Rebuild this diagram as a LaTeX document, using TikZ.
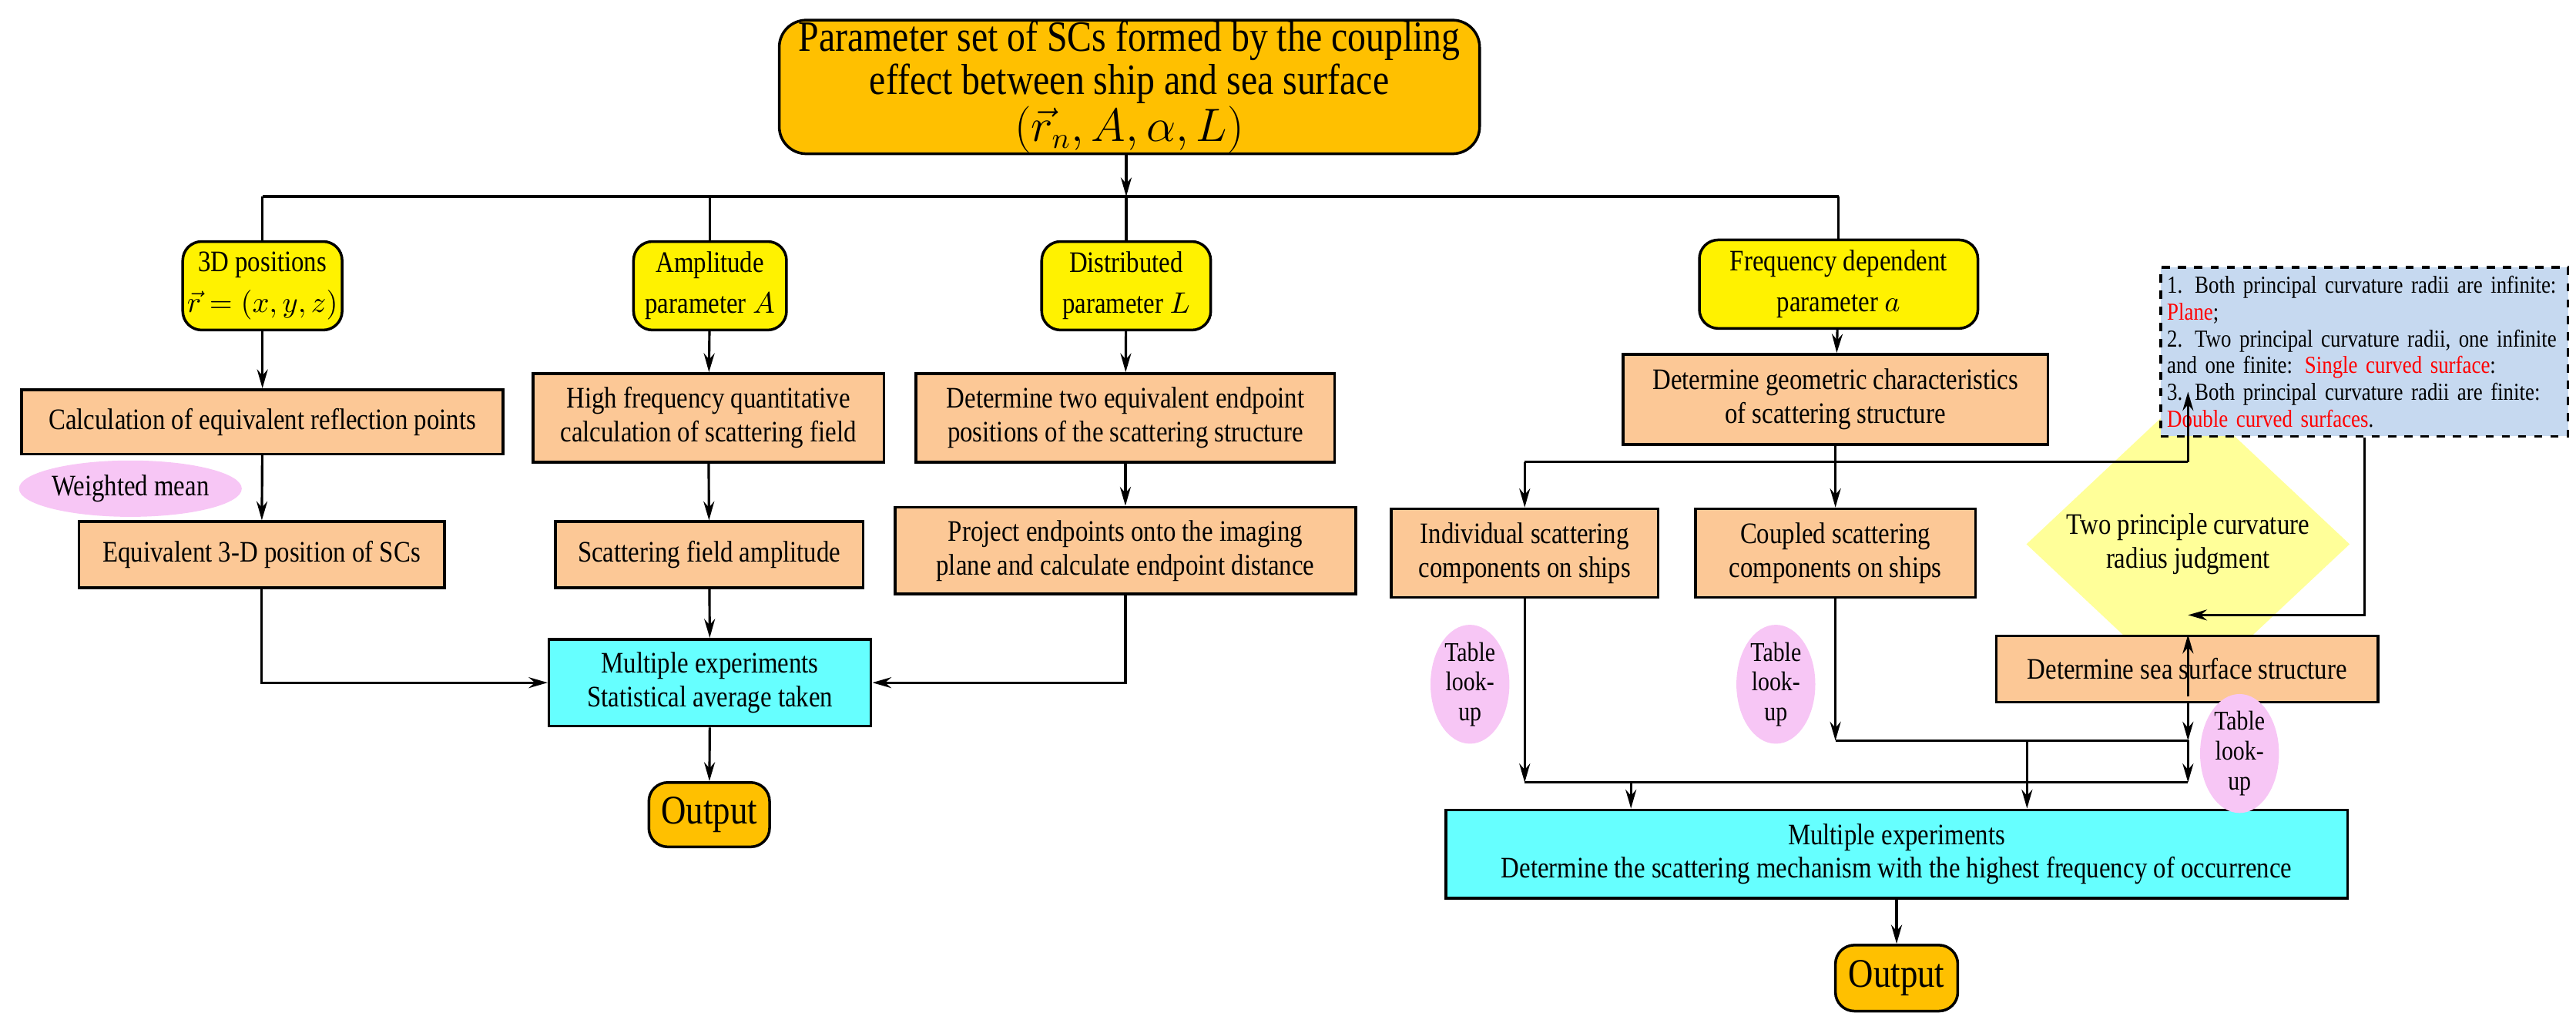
\documentclass[tikz,border=0pt]{standalone}
\usepackage{fontspec}
\setmainfont{Liberation Serif}[FakeStretch=0.85]
\usetikzlibrary{shapes.geometric,arrows.meta}
\newcommand\fs[2]{\fontsize{#1pt}{#2pt}\selectfont}
\def\pxu{0.0209cm}
\definecolor{peach}{HTML}{FCC896}
\definecolor{ttl}{HTML}{FFC000}
\definecolor{cyn}{HTML}{66FFFF}
\definecolor{pnk}{HTML}{F7C6F5}
\definecolor{pyl}{HTML}{FFFF99}
\definecolor{lbl}{HTML}{C6D9F0}
\begin{document}
\begin{tikzpicture}[x=0.0209cm,y=-0.0209cm,
  ln/.style={line width=0.9pt},
  arr/.style={line width=0.9pt,-{Stealth[length=7pt,width=4pt]}},
  base/.style={draw,line width=1pt,inner sep=0pt,align=center,font=\fs{11}{12.5}},
  ob/.style={base,fill=peach},
  yb/.style={base,fill=yellow,rounded corners=7pt,font=\fs{11}{15}},
  cb/.style={base,fill=cyn},
  outb/.style={base,fill=ttl,rounded corners=7pt,font=\fs{15}{17}},
  tl/.style={ellipse,fill=pnk,inner sep=0pt,align=center,font=\fs{10}{11}},
  sz/.style 2 args={minimum width=#1*\pxu,minimum height=#2*\pxu}]
\useasboundingbox (0,0) rectangle (1600,635);
% top
\node[base,fill=ttl,rounded corners=10pt,font=\fs{16}{16},sz={435}{83}] (title) at (701.5,54)
  {Parameter set of SCs formed by the coupling\\effect between ship and sea surface\\$\left(\vec{r}_n,A,\alpha,L\right)$};
\node[yb,sz={99}{55}] (p3d) at (163,177.5) {3D positions\\$\vec{r}=(x,y,z)$};
\node[yb,sz={95}{55}] (pamp) at (441,177.5) {Amplitude\\parameter $A$};
\node[yb,sz={105}{55}] (pdist) at (699.5,177.5) {Distributed\\parameter $L$};
\node[yb,sz={173}{55}] (pfreq) at (1142,176.5) {Frequency dependent\\parameter $a$};
% left column
\node[ob,sz={299}{40}] (calc) at (163,262) {Calculation of equivalent reflection points};
\node[tl,sz={136}{35},font=\fs{11}{12}] (wm) at (81,303.5) {Weighted mean};
\node[ob,sz={227}{41}] (equiv) at (162.5,344.5) {Equivalent 3-D position of SCs};
\node[ob,sz={218}{55}] (hf) at (440,259.5) {High frequency quantitative\\calculation of scattering field};
\node[ob,sz={191}{41}] (scat) at (440.5,344.5) {Scattering field amplitude};
\node[ob,sz={260}{55}] (dt) at (699,259.5) {Determine two equivalent endpoint\\positions of the scattering structure};
\node[ob,sz={286}{54}] (proj) at (699,342) {Project endpoints onto the imaging\\plane and calculate endpoint distance};
\node[cb,sz={200}{54}] (cyan1) at (441,424) {Multiple experiments\\Statistical average taken};
\node[outb,sz={75}{40}] (out1) at (440.5,506) {Output};
% right part
\node[ob,sz={264}{56}] (dg) at (1140,248) {Determine geometric characteristics\\of scattering structure};
\node[ob,sz={166}{55}] (ind) at (947,343.5) {Individual scattering\\components on ships};
\node[ob,sz={174}{55}] (cpl) at (1140,343.5) {Coupled scattering\\components on ships};
\node[diamond,fill=pyl,inner sep=0pt,align=center,font=\fs{11}{12.5},sz={201}{74}] (dia) at (1359,338) {Two principle curvature\\radius judgment};
\node[draw,dashed,line width=1pt,fill=lbl,inner sep=0pt,sz={253}{105}] (dash) at (1468.5,218.5) {};
\node[align=left,text width=245*\pxu,font=\fs{9}{9.9},inner sep=0pt] (dtxt) at (dash.center)
  {1. Both principal curvature radii are infinite:\\\textcolor{red}{Plane};\\2. Two principal curvature radii, one infinite\\and one finite: \textcolor{red}{Single curved surface}:\\3. Both principal curvature radii are finite:\\\textcolor{red}{Double curved surfaces}.};
\node[ob,sz={237}{41}] (sea) at (1358.5,415.5) {Determine sea surface structure};
\node[cb,sz={560}{55}] (cyan2) at (1178,530.5) {Multiple experiments\\Determine the scattering mechanism with the highest frequency of occurrence};
\node[outb,sz={76}{41}] (out2) at (1178,607.5) {Output};
\node[tl,sz={49}{57}] (tl1) at (913,425) {Table\\look-\\up};
\node[tl,sz={49}{57}] (tl2) at (1103,425) {Table\\look-\\up};
\node[tl,sz={49}{57}] (tl3) at (1391,468) {Table\\look-\\up};
% connectors top
\coordinate (bL) at (163,122);
\coordinate (bR) at (1142,122);
\coordinate (bT) at (699.5,122);
\draw[ln] (bL) -- (bR);
\draw[arr] (title.south -| bT) -- (bT);
\draw[ln] (bL) -- (p3d.north);
\draw[ln] (pamp.north |- bL) -- (pamp.north);
\draw[ln] (bT) -- (pdist.north);
\draw[ln] (bR) -- (pfreq.north);
% left
\draw[arr] (p3d) -- (calc);
\draw[arr] (calc) -- (equiv);
\draw[arr] (pamp) -- (hf);
\draw[arr] (hf) -- (scat);
\draw[arr] (pdist) -- (dt);
\draw[arr] (dt.south) -- (proj.north -| dt.south);
\draw[arr] (scat) -- (cyan1);
\draw[arr] (cyan1) -- (out1);
\draw[arr] (equiv.south) |- (cyan1.west);
\draw[arr] (proj.south) |- (cyan1.east);
% right
\draw[arr] (pfreq) -- (dg);
\coordinate (sL) at (947,287);
\coordinate (sR) at (1359,287);
\draw[ln] (dg.south) -- (dg.south |- sL);
\draw[ln] (sL) -- (sR);
\draw[arr] (sL) -- (ind.north);
\draw[arr] (cpl.north |- sL) -- (cpl.north);
\draw[arr] (sR) -- (dia.north);
\coordinate (dj) at (1359,382);
\draw[arr] (dash.south) |- (dj);
\draw[arr] (dia.south) -- (sea.north -| dia.south);
\coordinate (ya) at (1359,460);
\coordinate (yb) at (1359,486);
\draw[arr] (cpl.south) -- (cpl.south |- ya);
\draw[ln] (cpl.south |- ya) -- (ya);
\draw[arr] (sea.south -| ya) -- (ya);
\draw[arr] (ya) -- (yb);
\draw[arr] (ind.south) -- (ind.south |- yb);
\draw[ln] (ind.south |- yb) -- (yb);
\coordinate (c1) at (1013,486);
\coordinate (c2) at (1259,460);
\draw[arr] (c1) -- (c1 |- cyan2.north);
\draw[arr] (c2) -- (c2 |- cyan2.north);
\draw[arr] (cyan2) -- (out2);
\end{tikzpicture}
\end{document}
